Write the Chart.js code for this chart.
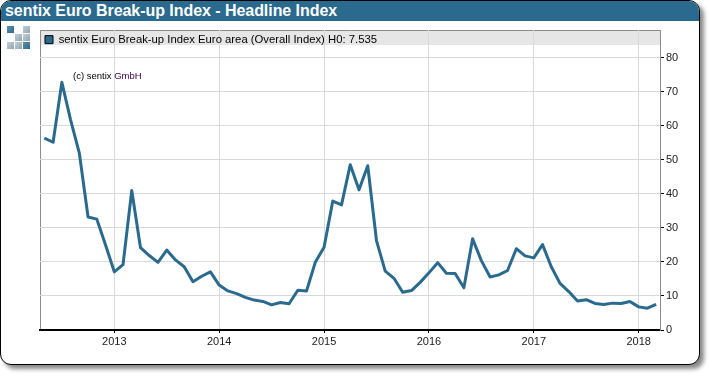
<!DOCTYPE html>
<html>
<head>
<meta charset="utf-8">
<script src="https://cdn.jsdelivr.net/npm/chart.js@4"></script>
<style>
html,body{margin:0;padding:0;background:#fff;overflow:hidden}
#wrap{position:relative;width:710px;height:376px;overflow:hidden;font-family:"Liberation Sans",Arial,sans-serif}
#card{position:absolute;left:0;top:0;width:698px;height:363px;border:1.5px solid #000;border-radius:11px;background:#fff;box-shadow:4px 4px 4px #8a8a8a;overflow:hidden}
#head{height:20px;background:#2a6a8e;color:#fff;font-weight:bold;font-size:16px;line-height:20px;padding-left:4px;white-space:nowrap;letter-spacing:-.05px}
canvas{position:absolute;left:0;top:0}
#copy{position:absolute;left:73px;top:70px;font-size:9.5px;line-height:12px;color:#000;white-space:pre}
#copy span{color:#3a0048}
.sq{position:absolute;width:7px;height:7px}
.b{background:linear-gradient(135deg,#5f8fab,#2a6a8e)}
.g{background:linear-gradient(135deg,#c4d0d6,#8fa5b1)}
</style>
</head>
<body>
<div id="wrap">
  <div id="card"><div id="head">sentix Euro Break-up Index - Headline Index</div></div>
  <div class="sq b" style="left:7px;top:26px"></div>
  <div class="sq g" style="left:23px;top:26px"></div>
  <div class="sq g" style="left:15px;top:34px"></div>
  <div class="sq g" style="left:23px;top:34px"></div>
  <div class="sq g" style="left:7px;top:42px"></div>
  <div class="sq g" style="left:15px;top:42px"></div>
  <div class="sq b" style="left:23px;top:42px"></div>
  <canvas id="c" width="710" height="376"></canvas>
  <div id="copy">(c) sentix <span>GmbH</span></div>
</div>
<script>
const months = ["2012-05","2012-06","2012-07","2012-08","2012-09","2012-10","2012-11","2012-12",
"2013-01","2013-02","2013-03","2013-04","2013-05","2013-06","2013-07","2013-08","2013-09","2013-10","2013-11","2013-12",
"2014-01","2014-02","2014-03","2014-04","2014-05","2014-06","2014-07","2014-08","2014-09","2014-10","2014-11","2014-12",
"2015-01","2015-02","2015-03","2015-04","2015-05","2015-06","2015-07","2015-08","2015-09","2015-10","2015-11","2015-12",
"2016-01","2016-02","2016-03","2016-04","2016-05","2016-06","2016-07","2016-08","2016-09","2016-10","2016-11","2016-12",
"2017-01","2017-02","2017-03","2017-04","2017-05","2017-06","2017-07","2017-08","2017-09","2017-10","2017-11","2017-12",
"2018-01","2018-02","2018-03"];
const values = [56.4,55.2,72.8,61.8,52.0,33.2,32.6,25.0,
17.1,19.2,41.0,24.2,21.9,19.9,23.5,20.6,18.6,14.2,15.8,17.1,
13.2,11.5,10.7,9.6,8.8,8.4,7.4,8.1,7.7,11.7,11.5,19.9,
24.3,37.9,36.8,48.6,41.2,48.3,26.3,17.3,15.2,11.1,11.6,14.0,
16.8,19.8,16.7,16.6,12.4,26.8,20.4,15.6,16.2,17.5,23.9,21.8,
21.2,25.1,18.6,13.7,11.3,8.5,8.9,7.8,7.5,7.9,7.8,8.4,
6.8,6.4,7.535];
const yearLabels = ["2013","2014","2015","2016","2017","2018"];
const yTicks = [0,10,20,30,40,50,60,70,80];
const seriesName = "sentix Euro Break-up Index Euro area (Overall Index) H0: 7.535";

const BLUE = "#2a6a8e";
const frame = {
  id: "frame",
  afterLayout(chart) {
    const l = chart.legend, a = chart.chartArea;
    l.left = a.left + 1;
    l.top = a.top;
    l.right = a.right;
    l.width = a.right - a.left;
  },
  beforeDraw(chart) {
    const {ctx, chartArea: a} = chart;
    ctx.save();
    ctx.fillStyle = "#e6e6e6";
    ctx.fillRect(a.left, a.top, a.right - a.left, 15);
    ctx.strokeStyle = "#8c8c8c";
    ctx.lineWidth = 1;
    ctx.beginPath();
    ctx.moveTo(a.left + .5, a.bottom);
    ctx.lineTo(a.left + .5, a.top + .5);
    ctx.lineTo(a.right, a.top + .5);
    ctx.stroke();
    ctx.restore();
  }
};

new Chart(document.getElementById("c"), {
  type: "line",
  plugins: [frame],
  data: {
    datasets: [{
      label: seriesName,
      data: months.map((m, i) => ({x: i, y: values[i]})),
      borderColor: BLUE,
      backgroundColor: BLUE,
      borderWidth: 3,
      pointRadius: 0,
      tension: 0,
      borderJoinStyle: "round"
    }]
  },
  options: {
    responsive: false,
    animation: false,
    layout: {padding: {top: 30, left: 40, right: 0, bottom: 0}},
    plugins: {
      tooltip: {enabled: false},
      title: {display: false},
      legend: {
        position: "chartArea",
        align: "start",
        labels: {
          boxWidth: 8, boxHeight: 8, padding: 4,
          color: "#000",
          font: {family: "'Liberation Sans'", size: 11.3},
          generateLabels: (ch) => [{
            text: ch.data.datasets[0].label,
            fillStyle: BLUE, strokeStyle: "#000", lineWidth: 1,
            fontColor: "#000", datasetIndex: 0
          }]
        }
      }
    },
    scales: {
      x: {
        type: "linear",
        min: -0.5, max: 70.44,
        afterFit(s) { s.height = 46; },
        afterBuildTicks(s) {
          s.ticks = yearLabels.map((y) => ({value: months.indexOf(y + "-01")}));
        },
        grid: {color: "#d9d9d9", lineWidth: 1, tickColor: "#000", tickLength: 3, drawOnChartArea: true},
        border: {color: "#000", width: 2},
        ticks: {
          autoSkip: false, maxRotation: 0, color: "#222", padding: 2,
          font: {family: "'Liberation Sans'", size: 11},
          callback: (v) => months[v] ? months[v].slice(0, 4) : ""
        }
      },
      y: {
        position: "right",
        min: 0, max: 88.2,
        afterFit(s) { s.width = 50; },
        afterBuildTicks(s) { s.ticks = yTicks.map((v) => ({value: v})); },
        grid: {color: "#d9d9d9", lineWidth: 1, tickColor: "#000", tickLength: 4},
        border: {color: "#8c8c8c", width: 1},
        ticks: {
          color: "#222", padding: 2,
          font: {family: "'Liberation Sans'", size: 11}
        }
      }
    }
  }
});
</script>
</body>
</html>
